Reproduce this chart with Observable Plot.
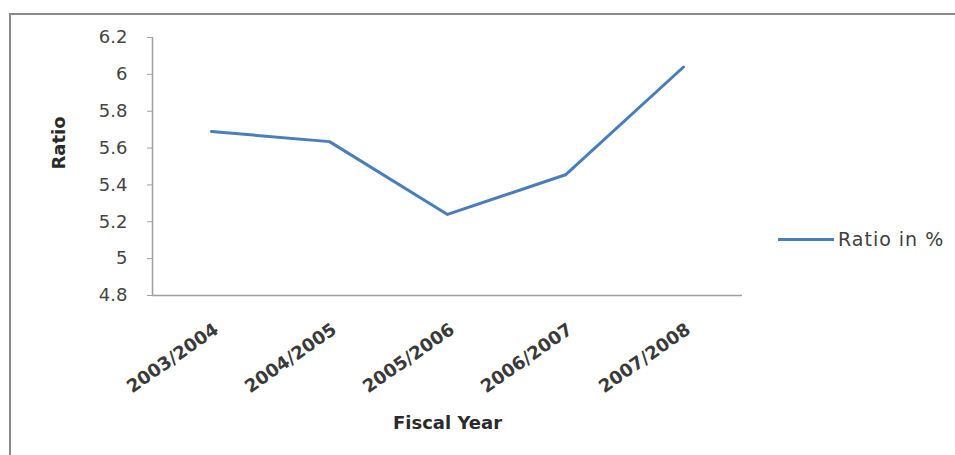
<!DOCTYPE html>
<html>
<head>
<meta charset="utf-8">
<script src="https://cdn.jsdelivr.net/npm/d3@7"></script>
<script src="https://cdn.jsdelivr.net/npm/@observablehq/plot@0.6"></script>
<style>
  html, body { margin: 0; padding: 0; background: #fff; }
  #wrap { position: relative; width: 955px; height: 455px; overflow: hidden; font-family: "DejaVu Sans", sans-serif; }
  #frame { position: absolute; left: 9px; top: 13px; right: -10px; bottom: -10px; border-top: 2px solid #8a8a8a; border-left: 2px solid #8a8a8a; }
  #chart { position: absolute; left: 0; top: 0; }
  #legend { position: absolute; left: 778px; top: 228px; display: flex; align-items: center; }
  #legend .sw { width: 56px; height: 3px; background: #4a7ebb; }
  #legend .lb { margin-left: 4px; font-size: 19px; letter-spacing: 1px; color: #404040; }
</style>
</head>
<body>
<div id="wrap">
  <div id="frame"></div>
  <div id="chart"></div>
  <div id="legend"><div class="sw"></div><div class="lb"></div></div>
</div>
<script>
const years = ["2003/2004", "2004/2005", "2005/2006", "2006/2007", "2007/2008"];
const ratios = [5.69, 5.635, 5.24, 5.455, 6.04];
const yTicks = [4.8, 5, 5.2, 5.4, 5.6, 5.8, 6, 6.2];
const seriesName = "Ratio in %";
const xTitle = "Fiscal Year";
const yTitle = "Ratio";

const data = years.map((y, i) => ({i, year: y, value: ratios[i]}));
const idx = years.map((_, i) => i);

const chart = Plot.plot({
  width: 955,
  height: 455,
  marginLeft: 152,
  marginRight: 213,
  marginTop: 37,
  marginBottom: 160,
  style: {fontFamily: "DejaVu Sans, sans-serif", background: "transparent", overflow: "visible"},
  x: {type: "linear", domain: [-0.5, years.length - 0.5], axis: null},
  y: {domain: [yTicks[0], yTicks[yTicks.length - 1]], axis: null},
  marks: [
    Plot.ruleY([yTicks[0]], {stroke: "#a0a0a0", strokeWidth: 1.5}),
    Plot.ruleX([-0.5], {stroke: "#a0a0a0", strokeWidth: 1.5}),
    Plot.axisY({
      ticks: yTicks,
      tickSize: 5,
      tickPadding: 20,
      tickFormat: d => String(+d.toFixed(1)),
      fontSize: 18,
      fill: "#454545",
      stroke: "#a0a0a0",
      label: null
    }),
    Plot.axisX({
      ticks: idx,
      tickFormat: i => years[i],
      tickRotate: -35,
      tickSize: 0,
      tickPadding: 32,
      dx: 5,
      fontSize: 18,
      fontWeight: "bold",
      fill: "#3a3a3a",
      label: null
    }),
    Plot.line(data, {x: "i", y: "value", stroke: "#4a7ebb", strokeWidth: 3, strokeLinejoin: "round"}),
    Plot.text([yTitle], {frameAnchor: "left", dx: -93, dy: 3, rotate: -90, fontSize: 18, fontWeight: "bold", fill: "#2a2a2a"}),
    Plot.text([xTitle], {frameAnchor: "bottom", dy: 133, fontSize: 18, fontWeight: "bold", fill: "#2a2a2a"})
  ]
});
document.getElementById("chart").appendChild(chart);
document.querySelector("#legend .lb").textContent = seriesName;
</script>
</body>
</html>
